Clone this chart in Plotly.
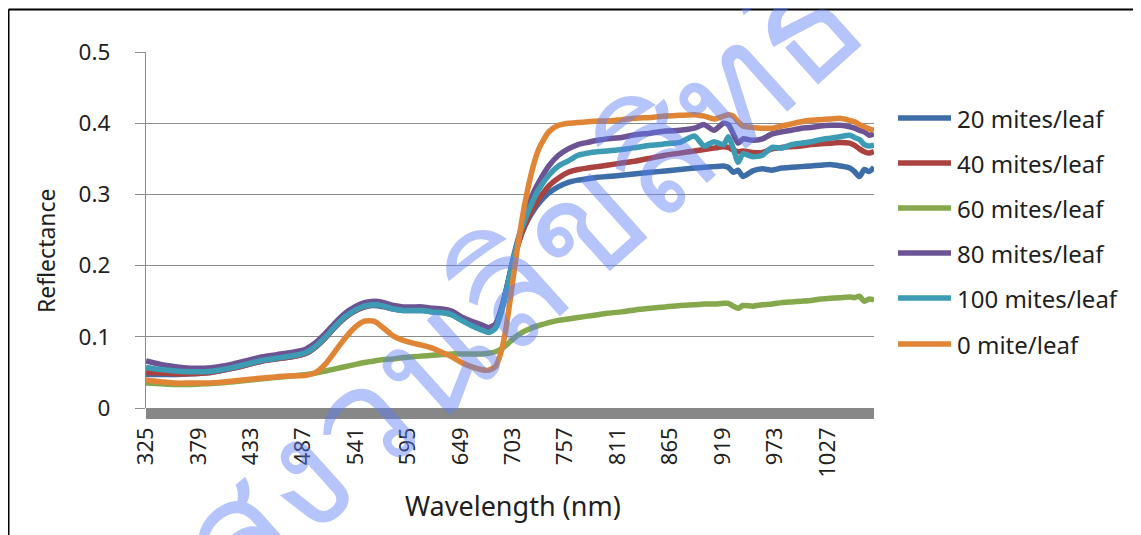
import plotly.graph_objects as go

# ---------------- data ----------------
wavelength = [325, 340, 355, 370, 385, 400, 415, 430, 445, 460, 475, 490, 500, 510, 520,
              530, 540, 550, 560, 570, 580, 590, 600, 610, 620, 630, 640, 650, 660, 670,
              678, 685, 690, 695, 700, 705, 710, 715, 720, 725, 730, 740, 750, 760, 770,
              780, 790, 800, 815, 830, 845, 860, 875, 890, 900, 910, 920, 925, 930, 935,
              940, 950, 960, 970, 980, 990, 1000, 1010, 1020, 1030, 1040, 1050, 1055, 1060,
              1065, 1070, 1075]

mites_20 = [0.047, 0.047, 0.047, 0.048, 0.049, 0.052, 0.056, 0.061, 0.066, 0.069, 0.072, 0.077,
            0.086, 0.099, 0.114, 0.127, 0.136, 0.142, 0.144, 0.142, 0.139, 0.137, 0.137, 0.137,
            0.135, 0.134, 0.131, 0.124, 0.117, 0.111, 0.107, 0.113, 0.131, 0.158, 0.188, 0.215,
            0.238, 0.255, 0.268, 0.279, 0.288, 0.302, 0.311, 0.317, 0.320, 0.322, 0.324, 0.325,
            0.327, 0.329, 0.331, 0.333, 0.335, 0.337, 0.338, 0.339, 0.340, 0.338, 0.331, 0.334,
            0.325, 0.333, 0.336, 0.334, 0.337, 0.338, 0.339, 0.340, 0.341, 0.342, 0.340, 0.337,
            0.332, 0.325, 0.335, 0.332, 0.338]

mites_40 = [0.050, 0.049, 0.048, 0.048, 0.049, 0.052, 0.056, 0.061, 0.066, 0.069, 0.072, 0.077,
            0.086, 0.099, 0.114, 0.127, 0.136, 0.142, 0.145, 0.143, 0.140, 0.138, 0.138, 0.138,
            0.137, 0.136, 0.133, 0.127, 0.121, 0.116, 0.112, 0.117, 0.133, 0.158, 0.187, 0.215,
            0.237, 0.255, 0.270, 0.283, 0.294, 0.312, 0.323, 0.331, 0.335, 0.337, 0.339, 0.341,
            0.344, 0.347, 0.351, 0.355, 0.358, 0.361, 0.363, 0.365, 0.367, 0.366, 0.362, 0.360,
            0.361, 0.359, 0.359, 0.364, 0.366, 0.367, 0.368, 0.370, 0.371, 0.372, 0.373, 0.372,
            0.369, 0.364, 0.360, 0.358, 0.360]

mites_60 = [0.035, 0.034, 0.033, 0.033, 0.034, 0.035, 0.037, 0.039, 0.041, 0.043, 0.045, 0.047,
            0.049, 0.052, 0.055, 0.058, 0.061, 0.064, 0.066, 0.068, 0.069, 0.071, 0.072, 0.073,
            0.074, 0.075, 0.076, 0.076, 0.076, 0.076, 0.077, 0.079, 0.082, 0.087, 0.093, 0.099,
            0.104, 0.108, 0.111, 0.114, 0.116, 0.120, 0.123, 0.125, 0.127, 0.129, 0.131, 0.133,
            0.135, 0.138, 0.140, 0.142, 0.144, 0.145, 0.146, 0.146, 0.147, 0.147, 0.143, 0.140,
            0.144, 0.143, 0.145, 0.146, 0.148, 0.149, 0.150, 0.151, 0.153, 0.154, 0.155, 0.156,
            0.155, 0.157, 0.150, 0.153, 0.152]

mites_80 = [0.066, 0.061, 0.058, 0.056, 0.056, 0.058, 0.062, 0.067, 0.072, 0.075, 0.078, 0.083,
            0.092, 0.105, 0.120, 0.133, 0.142, 0.148, 0.150, 0.148, 0.144, 0.142, 0.142, 0.142,
            0.140, 0.139, 0.136, 0.128, 0.122, 0.117, 0.113, 0.118, 0.135, 0.160, 0.190, 0.220,
            0.245, 0.268, 0.288, 0.305, 0.318, 0.340, 0.355, 0.364, 0.370, 0.373, 0.376, 0.378,
            0.380, 0.384, 0.386, 0.389, 0.390, 0.393, 0.398, 0.390, 0.400, 0.398, 0.385, 0.372,
            0.378, 0.376, 0.378, 0.385, 0.388, 0.390, 0.393, 0.394, 0.396, 0.397, 0.397, 0.395,
            0.393, 0.390, 0.388, 0.383, 0.385]

mites_100 = [0.057, 0.054, 0.052, 0.051, 0.051, 0.053, 0.057, 0.062, 0.067, 0.070, 0.073, 0.078,
             0.087, 0.100, 0.115, 0.128, 0.137, 0.143, 0.145, 0.143, 0.139, 0.137, 0.137, 0.137,
             0.135, 0.134, 0.131, 0.123, 0.116, 0.110, 0.106, 0.112, 0.130, 0.157, 0.188, 0.218,
             0.243, 0.263, 0.280, 0.295, 0.308, 0.327, 0.340, 0.347, 0.355, 0.358, 0.360, 0.361,
             0.363, 0.366, 0.369, 0.371, 0.373, 0.382, 0.368, 0.374, 0.370, 0.381, 0.365, 0.345,
             0.357, 0.353, 0.355, 0.366, 0.365, 0.370, 0.372, 0.374, 0.377, 0.379, 0.381, 0.383,
             0.380, 0.377, 0.370, 0.368, 0.369]

mites_0 = [0.039, 0.037, 0.035, 0.035, 0.035, 0.036, 0.038, 0.040, 0.042, 0.044, 0.045, 0.046,
           0.050, 0.062, 0.080, 0.098, 0.113, 0.122, 0.122, 0.112, 0.101, 0.095, 0.091, 0.088,
           0.084, 0.078, 0.072, 0.064, 0.058, 0.054, 0.053, 0.058, 0.075, 0.105, 0.150, 0.200,
           0.245, 0.285, 0.318, 0.345, 0.365, 0.388, 0.397, 0.400, 0.401, 0.402, 0.403, 0.403,
           0.405, 0.407, 0.408, 0.410, 0.411, 0.412, 0.410, 0.406, 0.410, 0.412, 0.410, 0.402,
           0.396, 0.394, 0.393, 0.393, 0.396, 0.399, 0.402, 0.404, 0.405, 0.406, 0.407, 0.404,
           0.402, 0.398, 0.395, 0.392, 0.390]

series_names = ["20 mites/leaf", "40 mites/leaf", "60 mites/leaf",
                "80 mites/leaf", "100 mites/leaf", "0 mite/leaf"]
series_values = [mites_20, mites_40, mites_60, mites_80, mites_100, mites_0]
series_colors = ["#3d6ea8", "#aa4340", "#86a84c", "#6c5494", "#3d9cb3", "#e08535"]

x_tick_values = [325, 379, 433, 487, 541, 595, 649, 703, 757, 811, 865, 919, 973, 1027]
y_tick_values = [0, 0.1, 0.2, 0.3, 0.4, 0.5]
y_tick_labels = ["0", "0.1", "0.2", "0.3", "0.4", "0.5"]

# ---------------- figure ----------------
FONT = "Noto Sans"
TXT = "#1f1f1f"
GRID = "#8c8c8c"

# the page body has an 8 px margin, so the figure is drawn 8 px in from the window corner
OFF = 8
FIG_W, FIG_H = 1141 - OFF, 535 - OFF

# plot-area geometry in window pixels
L, R, T, B = 146, 874, 52, 408
W, H = R - L, B - T


def px(x):
    return (x - L) / W


def py(y):
    return (B - y) / H


fig = go.Figure()
for name, vals, col in zip(series_names, series_values, series_colors):
    fig.add_trace(go.Scatter(x=wavelength, y=vals, mode="lines", name=name,
                             line=dict(color=col, width=5.5, shape="spline", smoothing=0.6),
                             showlegend=False))

shapes = []
annotations = []

# thick grey category axis bar below y = 0
shapes.append(dict(type="rect", xref="paper", yref="paper", ysizemode="pixel", yanchor=0,
                   x0=0, x1=1, y0=0, y1=-11, fillcolor="#878787", line=dict(width=0),
                   layer="below"))

# chart frame (black top and left, light grey right)
shapes.append(dict(type="line", xref="paper", yref="paper", x0=px(8.5), x1=px(1141),
                   y0=py(9.5), y1=py(9.5), line=dict(color="black", width=2)))
shapes.append(dict(type="line", xref="paper", yref="paper", x0=px(8.5), x1=px(8.5),
                   y0=py(9.5), y1=py(536), line=dict(color="black", width=2)))
shapes.append(dict(type="line", xref="paper", yref="paper", x0=px(1139.5), x1=px(1139.5),
                   y0=py(9.5), y1=py(536), line=dict(color="#d9d9d9", width=1.5)))

# manual legend
legend_y = [118, 163, 208, 253, 298, 344]
for name, col, ly in zip(series_names, series_colors, legend_y):
    shapes.append(dict(type="line", xref="paper", yref="paper", x0=px(898), x1=px(951),
                       y0=py(ly), y1=py(ly), line=dict(color=col, width=5.5)))
    annotations.append(dict(text=name, xref="paper", yref="paper", x=px(955), y=py(ly),
                            xanchor="left", yanchor="middle", showarrow=False,
                            font=dict(family=FONT, size=24, color=TXT)))

# axis titles
annotations.append(dict(text="Reflectance", xref="paper", yref="paper", x=px(46), y=py(250),
                        xanchor="center", yanchor="middle", textangle=-90, showarrow=False,
                        font=dict(family=FONT, size=23, color=TXT)))
annotations.append(dict(text="Wavelength (nm)", xref="paper", yref="paper", x=px(513),
                        y=py(505), xanchor="center", yanchor="middle", showarrow=False,
                        font=dict(family=FONT, size=27, color=TXT)))

# watermark
annotations.append(dict(text="สงวนลิขสิทธิ์", xref="paper", yref="paper", x=px(520),
                        y=py(270), xanchor="center", yanchor="middle", textangle=-42,
                        showarrow=False,
                        font=dict(family=FONT, size=155, color="rgba(90,125,245,0.45)")))

fig.update_layout(
    width=FIG_W, height=FIG_H,
    margin=dict(l=L - OFF, r=FIG_W - (R - OFF), t=T - OFF, b=FIG_H - (B - OFF), pad=0),
    paper_bgcolor="white", plot_bgcolor="white",
    font=dict(family=FONT, size=21, color=TXT),
    shapes=shapes, annotations=annotations,
    xaxis=dict(range=[325, 1075], tickmode="array", tickvals=x_tick_values,
               ticktext=[str(v) for v in x_tick_values], tickangle=-90,
               showgrid=False, zeroline=False, showline=False, ticks="",
               ticklabelstandoff=14, tickfont=dict(family=FONT, size=22, color=TXT)),
    yaxis=dict(range=[0, 0.5], tickmode="array", tickvals=y_tick_values,
               ticktext=y_tick_labels, showgrid=True, gridcolor=GRID, gridwidth=1.3,
               zeroline=False, showline=True, linecolor=GRID, linewidth=1.3,
               ticks="outside", ticklen=10, tickcolor=GRID, tickwidth=1.3,
               ticklabelstandoff=20, tickfont=dict(family=FONT, size=22.5, color=TXT)),
)

fig.write_html("out.html")
